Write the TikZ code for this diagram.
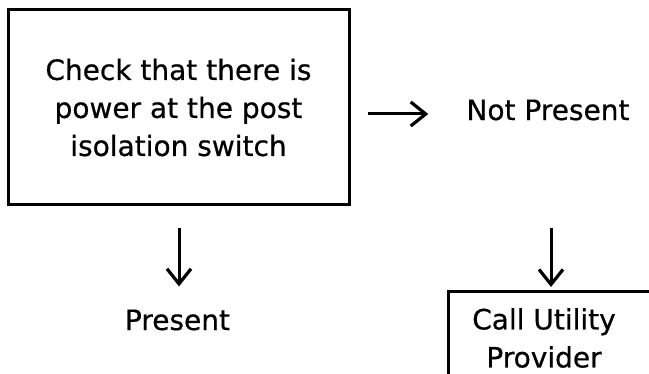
\documentclass[tikz,border=0pt]{standalone}
\usepackage{fontspec}
\setmainfont{DejaVu Sans}[FakeBold=0.6]
\usetikzlibrary{arrows.meta}
\begin{document}
\begin{tikzpicture}[x=1pt,y=-1pt,
  txt/.style={inner sep=0pt, font=\fontsize{28}{38}\selectfont, align=center},
  boxed/.style={draw, line width=3pt, inner sep=0pt},
  arr/.style={line width=3pt, -{Straight Barb[length=15pt,width=24pt,line width=3.2pt]}}]
\useasboundingbox (0,0) rectangle (649,374);
\clip (0,0) rectangle (649,374);
\fill[white] (0,0) rectangle (649,374);
\node[boxed, txt, minimum width=341pt, minimum height=195pt] (main) at (178.5,107.5)
  {Check that there is\\power at the post\\isolation switch};
\node[txt] (np) at (548,110) {Not Present};
\node[txt] (present) at (177.5,320) {Present};
\node[boxed, anchor=north west, minimum width=260pt, minimum height=120pt] (cbox) at (447,290) {};
\node[txt] (call) at (544,338) {Call Utility\\Provider};
\draw[arr, shorten <=17pt, shorten >=38pt] ([yshift=-4pt]main.east |- np.center) -- ([yshift=-4pt]np.west);
\draw[arr, shorten <=22pt, shorten >=23pt] ([xshift=0.5pt]main.south) -- ([xshift=0.5pt]main.south |- present.north);
\draw[arr, shorten <=107pt, shorten >=3pt] ([xshift=3pt]np.south) -- ([xshift=3pt]np.south |- cbox.north);
\end{tikzpicture}
\end{document}
